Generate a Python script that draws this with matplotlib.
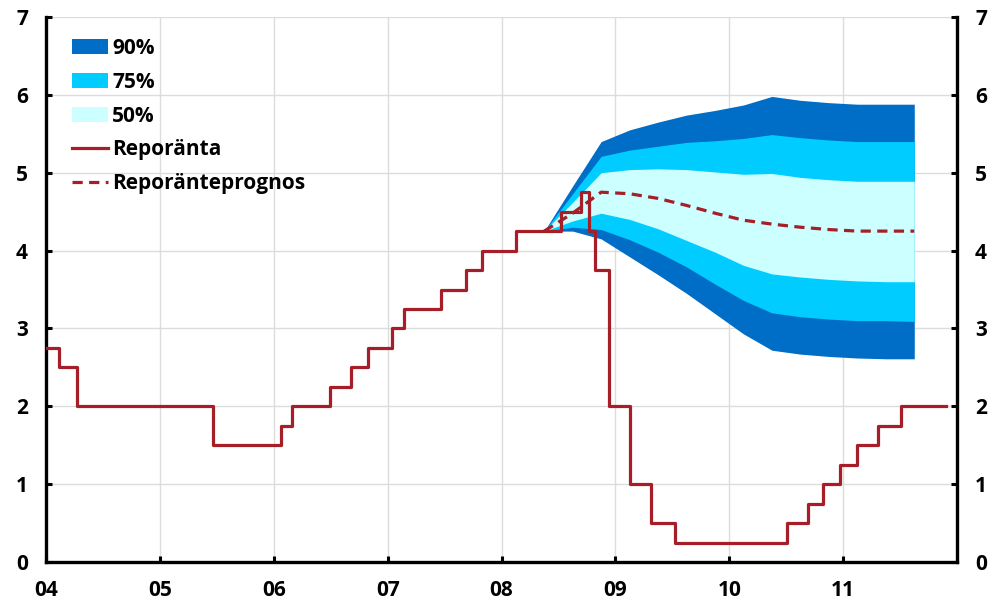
"""Reporänta med osäkerhetsintervall (fan chart)."""

import matplotlib
matplotlib.use("Agg")
import matplotlib.pyplot as plt
from matplotlib.patches import Patch
from matplotlib.lines import Line2D

plt.rcParams["font.family"] = ["Open Sans", "DejaVu Sans"]
plt.rcParams["font.weight"] = "bold"

# Reporänta, beslutsdatum som decimalår
repo_x = [2004.0, 2004.11, 2004.27, 2005.47, 2006.06, 2006.16, 2006.49, 2006.68,
          2006.83, 2007.04, 2007.14, 2007.47, 2007.69, 2007.83, 2008.13, 2008.52,
          2008.70, 2008.77, 2008.82, 2008.94, 2009.13, 2009.31, 2009.52, 2010.51,
          2010.69, 2010.82, 2010.97, 2011.12, 2011.31, 2011.51, 2011.9]
repo_y = [2.75, 2.5, 2.0, 1.5, 1.75, 2.0, 2.25, 2.5, 2.75, 3.0, 3.25, 3.5, 3.75,
          4.0, 4.25, 4.5, 4.75, 4.25, 3.75, 2.0, 1.0, 0.5, 0.25, 0.5, 0.75, 1.0,
          1.25, 1.5, 1.75, 2.0, 2.0]

# Prognos per kvartal
fc_x = [2008.375, 2008.625, 2008.875, 2009.125, 2009.375, 2009.625, 2009.875,
        2010.125, 2010.375, 2010.625, 2010.875, 2011.125, 2011.375, 2011.625]
fc_mid = [4.25, 4.48, 4.75, 4.73, 4.67, 4.58, 4.48, 4.39, 4.34, 4.30, 4.27, 4.25, 4.25, 4.25]

p90_lo = [4.25, 4.25, 4.15, 3.92, 3.69, 3.45, 3.19, 2.93, 2.72, 2.67, 2.64, 2.62, 2.61, 2.61]
p90_hi = [4.25, 4.83, 5.40, 5.55, 5.65, 5.74, 5.80, 5.87, 5.98, 5.93, 5.90, 5.88, 5.88, 5.88]
p75_lo = [4.25, 4.30, 4.27, 4.14, 3.98, 3.79, 3.57, 3.36, 3.20, 3.15, 3.12, 3.10, 3.10, 3.09]
p75_hi = [4.25, 4.73, 5.21, 5.29, 5.34, 5.39, 5.41, 5.44, 5.49, 5.45, 5.42, 5.40, 5.40, 5.40]
p50_lo = [4.25, 4.38, 4.48, 4.40, 4.28, 4.13, 3.98, 3.81, 3.70, 3.66, 3.63, 3.61, 3.60, 3.60]
p50_hi = [4.25, 4.62, 5.00, 5.04, 5.05, 5.04, 5.01, 4.98, 4.99, 4.94, 4.91, 4.89, 4.89, 4.89]

years = [2004, 2005, 2006, 2007, 2008, 2009, 2010, 2011]
year_labels = ["04", "05", "06", "07", "08", "09", "10", "11"]

C90 = "#006EC7"
C75 = "#00CCFF"
C50 = "#CCFFFF"
RED = "#A51E28"

fig = plt.figure(figsize=(9.92, 6.01), dpi=100)
ax = fig.add_axes([0.0464, 0.0649, 0.9183, 0.9068])

ax.fill_between(fc_x, p90_lo, p90_hi, color=C90, lw=0, zorder=2)
ax.fill_between(fc_x, p75_lo, p75_hi, color=C75, lw=0, zorder=3)
ax.fill_between(fc_x, p50_lo, p50_hi, color=C50, lw=0, zorder=4)

ax.plot(repo_x, repo_y, drawstyle="steps-post", color=RED, lw=2.3, zorder=6)
ax.plot(fc_x, fc_mid, color=RED, lw=2.3, dashes=(3.2, 2.0), zorder=5)

ax.set_xlim(2004, 2012)
ax.set_ylim(0, 7)
ax.set_xticks(years)
ax.set_xticklabels(year_labels)
ax.set_yticks(range(8))

ax.grid(True, color="#DCDCDC", lw=1.0, zorder=0)
ax.set_axisbelow(True)

for side in ["left", "bottom", "right"]:
    ax.spines[side].set_linewidth(2.4)
ax.spines["top"].set_visible(False)

ax.tick_params(axis="both", direction="in", length=4, width=2.2, labelsize=15, pad=13)
ax.tick_params(axis="y", right=True, labelright=True)
ax.tick_params(axis="x", top=False)

handles = [
    Patch(facecolor=C90, edgecolor="none"),
    Patch(facecolor=C75, edgecolor="none"),
    Patch(facecolor=C50, edgecolor="none"),
    Line2D([], [], color=RED, lw=2.3),
    Line2D([], [], color=RED, lw=2.3, dashes=(3.2, 2.0)),
]
labels = ["90%", "75%", "50%", "Reporänta", "Reporänteprognos"]
ax.legend(handles, labels, loc="upper left", frameon=False, fontsize=15,
          handlelength=1.73, handletextpad=0.2, labelspacing=0.62,
          bbox_to_anchor=(0.015, 0.985), borderaxespad=0.2)

fig.savefig("out.png", dpi=100)
plt.close(fig)
